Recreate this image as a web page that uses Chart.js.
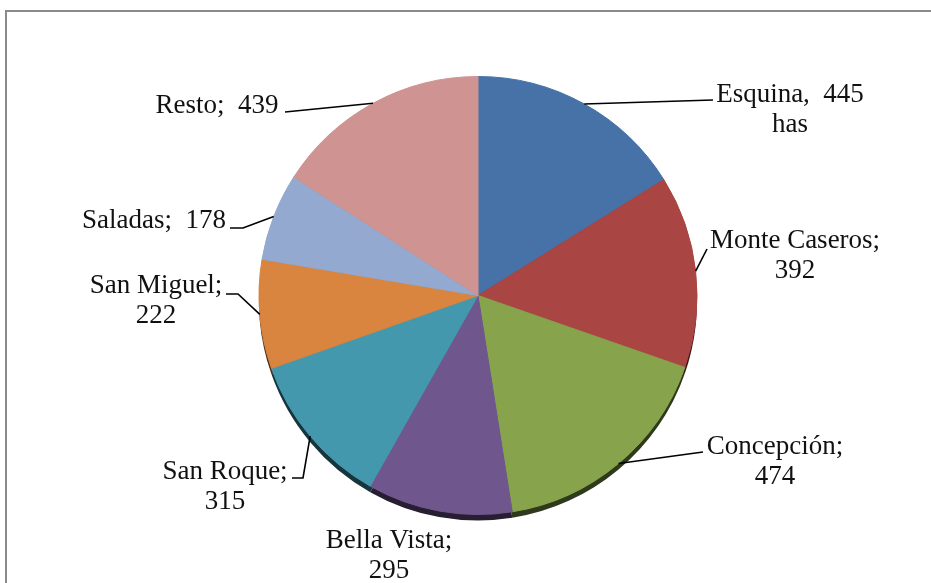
<!DOCTYPE html>
<html>
<head>
<meta charset="utf-8">
<style>
  html, body { margin: 0; padding: 0; background: #fff; }
  #wrap { width: 931px; height: 583px; position: relative; }
</style>
<script src="https://cdn.jsdelivr.net/npm/chart.js@4/dist/chart.umd.min.js"></script>
</head>
<body>
<div id="wrap"><canvas id="myChart" width="931" height="583"></canvas></div>
<script>
const categories = ["Esquina", "Monte Caseros", "Concepción", "Bella Vista", "San Roque", "San Miguel", "Saladas", "Resto"];
const hectares = [445, 392, 474, 295, 315, 222, 178, 439];
const sliceColors = ["#4672a8", "#a94543", "#87a44d", "#6f578e", "#4398ae", "#d9843f", "#93a9cf", "#cf9392"];

// label placement (text centre x, first baseline y, how lines are split, leader bend points)
const labelLayout = [
  { x: 790, y: 102, mode: "esq", path: [[713, 100]] },
  { x: 795, y: 248, mode: "two", path: [[707, 249]] },
  { x: 775, y: 454, mode: "two", path: [[703, 452]] },
  { x: 389, y: 548, mode: "two", path: [] },
  { x: 225, y: 479, mode: "two", path: [[303, 478], [292, 478]] },
  { x: 156, y: 293, mode: "two", path: [[238, 294], [226, 294]] },
  { x: 154, y: 228, mode: "one", path: [[243, 228], [230, 228]] },
  { x: 217, y: 113, mode: "one", path: [[285, 112]] }
];

function labelLines(i) {
  const name = categories[i], v = hectares[i];
  const mode = labelLayout[i].mode;
  if (mode === "esq") return [name + ",  " + v, "has"];
  if (mode === "one") return [name + ";  " + v];
  return [name + ";", String(v)];
}

function darken(hex, f) {
  const n = parseInt(hex.slice(1), 16);
  const r = Math.round(((n >> 16) & 255) * f);
  const g = Math.round(((n >> 8) & 255) * f);
  const b = Math.round((n & 255) * f);
  return "rgb(" + r + "," + g + "," + b + ")";
}

// frame + 3d edge below the pie
const edgePlugin = {
  id: "edge",
  beforeDatasetsDraw(chart) {
    const ctx = chart.ctx;
    const meta = chart.getDatasetMeta(0);
    ctx.save();
    meta.data.forEach((arc, i) => {
      ctx.beginPath();
      ctx.moveTo(arc.x, arc.y + 6);
      ctx.arc(arc.x, arc.y + 6, arc.outerRadius, arc.startAngle, arc.endAngle);
      ctx.closePath();
      ctx.fillStyle = darken(sliceColors[i], 0.35);
      ctx.fill();
    });
    ctx.restore();
  },
  afterDraw(chart) {
    const ctx = chart.ctx;
    ctx.save();
    ctx.strokeStyle = "#8a8a8a";
    ctx.lineWidth = 2;
    ctx.strokeRect(6, 11, 1000, 1000);
    ctx.restore();
  }
};

const labelPlugin = {
  id: "outLabels",
  afterDatasetsDraw(chart) {
    const ctx = chart.ctx;
    const meta = chart.getDatasetMeta(0);
    ctx.save();
    ctx.font = "27px 'Liberation Serif', 'Times New Roman', serif";
    ctx.fillStyle = "#111";
    ctx.textAlign = "center";
    ctx.textBaseline = "alphabetic";
    meta.data.forEach((arc, i) => {
      const lay = labelLayout[i];
      const mid = (arc.startAngle + arc.endAngle) / 2;
      const sx = arc.x + Math.cos(mid) * arc.outerRadius;
      const sy = arc.y + Math.sin(mid) * arc.outerRadius;
      if (lay.path.length) {
        ctx.beginPath();
        ctx.moveTo(sx, sy);
        lay.path.forEach(p => ctx.lineTo(p[0], p[1]));
        ctx.strokeStyle = "#000";
        ctx.lineWidth = 1.6;
        ctx.stroke();
      }
      labelLines(i).forEach((t, k) => ctx.fillText(t, lay.x, lay.y + k * 30));
    });
    ctx.restore();
  }
};

const ctx = document.getElementById("myChart").getContext("2d");
new Chart(ctx, {
  type: "pie",
  data: {
    labels: categories,
    datasets: [{
      data: hectares,
      backgroundColor: sliceColors,
      borderColor: sliceColors,
      borderWidth: 1
    }]
  },
  options: {
    responsive: false,
    animation: false,
    layout: { padding: { top: 76, bottom: 68, left: 150, right: 125 } },
    plugins: {
      legend: { display: false },
      tooltip: { enabled: false }
    }
  },
  plugins: [edgePlugin, labelPlugin]
});
</script>
</body>
</html>
